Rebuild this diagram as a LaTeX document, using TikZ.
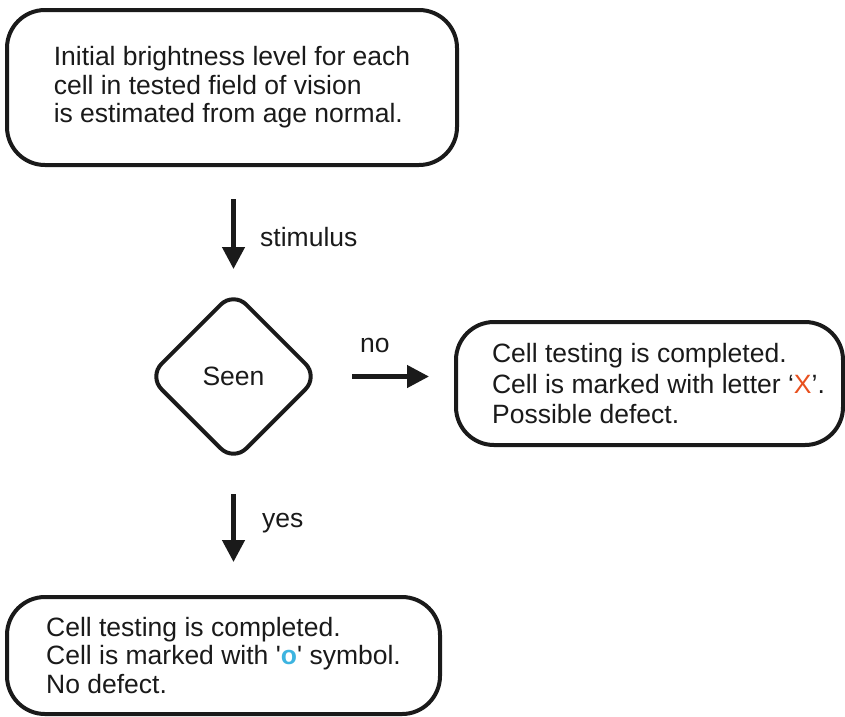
\documentclass[tikz,border=0pt]{standalone}
\usepackage{fontspec}
\setmainfont{Liberation Sans}[Ligatures=TeXOff]
\usetikzlibrary{shapes.geometric,arrows.meta}
\definecolor{xred}{HTML}{E8501E}
\definecolor{oblue}{HTML}{3DB4E0}
\definecolor{ink}{HTML}{1A1A1A}
\begin{document}
\begin{tikzpicture}[x=1pt,y=1pt,
  every node/.style={font=\fontsize{26.5}{28.5}\selectfont, text=ink},
  roundbox/.style={draw=ink, line width=4pt, rounded corners=38pt, align=left,
     inner sep=0pt, anchor=center},
  decision/.style={draw=ink, line width=4pt, diamond, rounded corners=18pt,
     minimum width=171pt, minimum height=171pt, inner sep=0pt},
  arr/.style={draw=ink, line width=4.5pt, -{Triangle[length=22pt,width=22pt]}},
  lbl/.style={inner sep=0pt, anchor=west}]
\useasboundingbox (0,0) rectangle (845,-716);
\node[roundbox, minimum width=450pt, minimum height=155pt] (top) at (232,-87.5)
  {Initial brightness level for each\\cell in tested field of vision\\is estimated from age normal.};
\node[decision] (dia) at (233.5,-376.5) {Seen};
\node[roundbox, minimum width=387pt, minimum height=123pt] (no) at (649.5,-383.5)
  {\hspace*{18pt}\raisebox{-4pt}[\height][\depth]{\begin{tabular}{@{}l@{}}Cell testing is completed.\\[2pt]Cell is marked with letter ‘\textcolor{xred}{X}’.\\[2pt]Possible defect.\end{tabular}}};
\node[roundbox, minimum width=433pt, minimum height=117pt] (yes) at (223.5,-655.5)
  {Cell testing is completed.\\Cell is marked with '\textcolor{oblue}{\bfseries o}' symbol.\\No defect.};
\coordinate (a1s) at ([yshift=-32pt]top.south -| dia.north);
\coordinate (a1e) at ([yshift=20pt]dia.north);
\draw[arr] (a1s) -- (a1e);
\node[lbl] (stim) at (260,-237) {stimulus};
\coordinate (a2s) at ([xshift=31pt]dia.east);
\coordinate (a2e) at ([xshift=-25pt]dia.east -| no.west);
\draw[arr] (a2s) -- (a2e);
\node[lbl] (nolbl) at (360,-345) {no};
\coordinate (a3s) at ([yshift=-30pt]dia.south);
\coordinate (a3e) at ([yshift=33pt]dia.south |- yes.north);
\draw[arr] (a3s) -- (a3e);
\node[lbl] (yeslbl) at (262,-523) {yes};
\end{tikzpicture}
\end{document}
